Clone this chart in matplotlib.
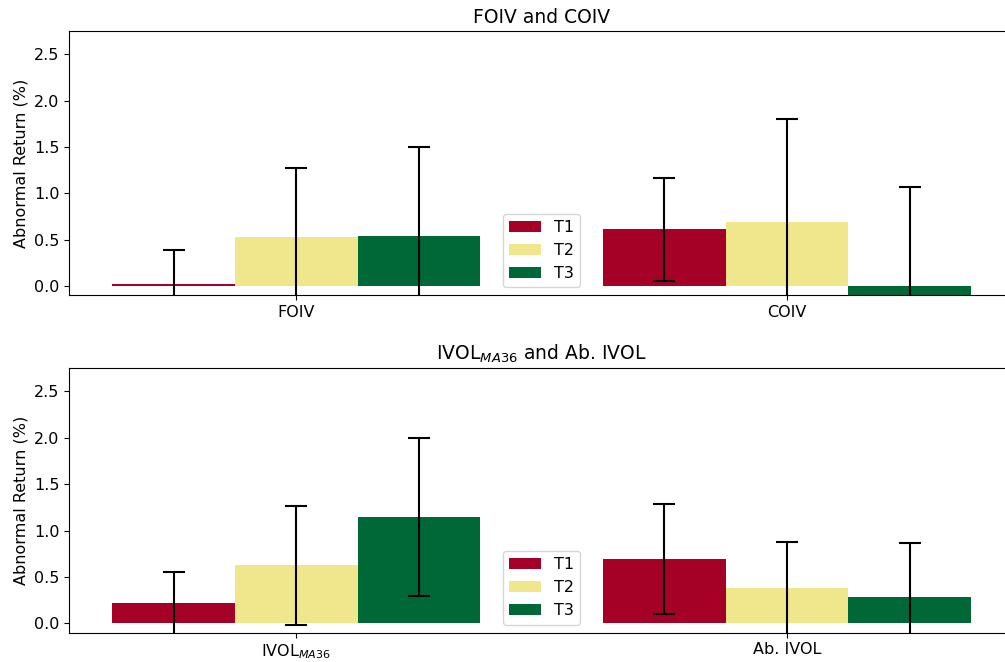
import matplotlib
matplotlib.use("Agg")
import matplotlib.pyplot as plt
import numpy as np

# Abnormal returns (%) by tercile, with error half-widths
series = ["T1", "T2", "T3"]
colors = ["#a50026", "#f0e68c", "#006837"]

top_title = "FOIV and COIV"
top_categories = ["FOIV", "COIV"]
top_values = {
    "T1": [0.02, 0.61],
    "T2": [0.53, 0.69],
    "T3": [0.54, -0.15],
}
top_errors = {
    "T1": [0.365, 0.553],
    "T2": [0.745, 1.115],
    "T3": [0.96, 1.22],
}

bottom_title = "IVOL$_{MA36}$ and Ab. IVOL"
bottom_categories = ["IVOL$_{MA36}$", "Ab. IVOL"]
bottom_values = {
    "T1": [0.215, 0.69],
    "T2": [0.626, 0.377],
    "T3": [1.145, 0.287],
}
bottom_errors = {
    "T1": [0.338, 0.591],
    "T2": [0.641, 0.50],
    "T3": [0.848, 0.582],
}

plt.rcParams["font.family"] = "DejaVu Sans"

fig = plt.figure(figsize=(10.05, 6.62), dpi=100)
ax_top = fig.add_axes([0.0690, 0.5539, 0.9398, 0.3992])
ax_bot = fig.add_axes([0.0690, 0.0443, 0.9398, 0.3998])

width = 0.25


def draw_panel(ax, title, categories, values, errors):
    x = np.arange(len(categories))
    for i, (name, color) in enumerate(zip(series, colors)):
        pos = x + (i - 1) * width
        ax.bar(pos, values[name], width, color=color, label=name,
               linewidth=0)
        ax.errorbar(pos, values[name], yerr=errors[name], fmt="none",
                    ecolor="black", elinewidth=1.5, capsize=8,
                    capthick=1.5)
    ax.set_xticks(x)
    ax.set_xticklabels(categories, fontsize=11.5)
    ax.set_ylim(-0.1, 2.75)
    ax.set_yticks([0.0, 0.5, 1.0, 1.5, 2.0, 2.5])
    ax.tick_params(axis="y", labelsize=11.5)
    ax.set_ylabel("Abnormal Return (%)", fontsize=11.5)
    ax.set_title(title, fontsize=13.5)
    ax.legend(loc="lower center", fontsize=11.5)


draw_panel(ax_top, top_title, top_categories, top_values, top_errors)
draw_panel(ax_bot, bottom_title, bottom_categories, bottom_values,
           bottom_errors)

fig.savefig("out.png", dpi=100)
